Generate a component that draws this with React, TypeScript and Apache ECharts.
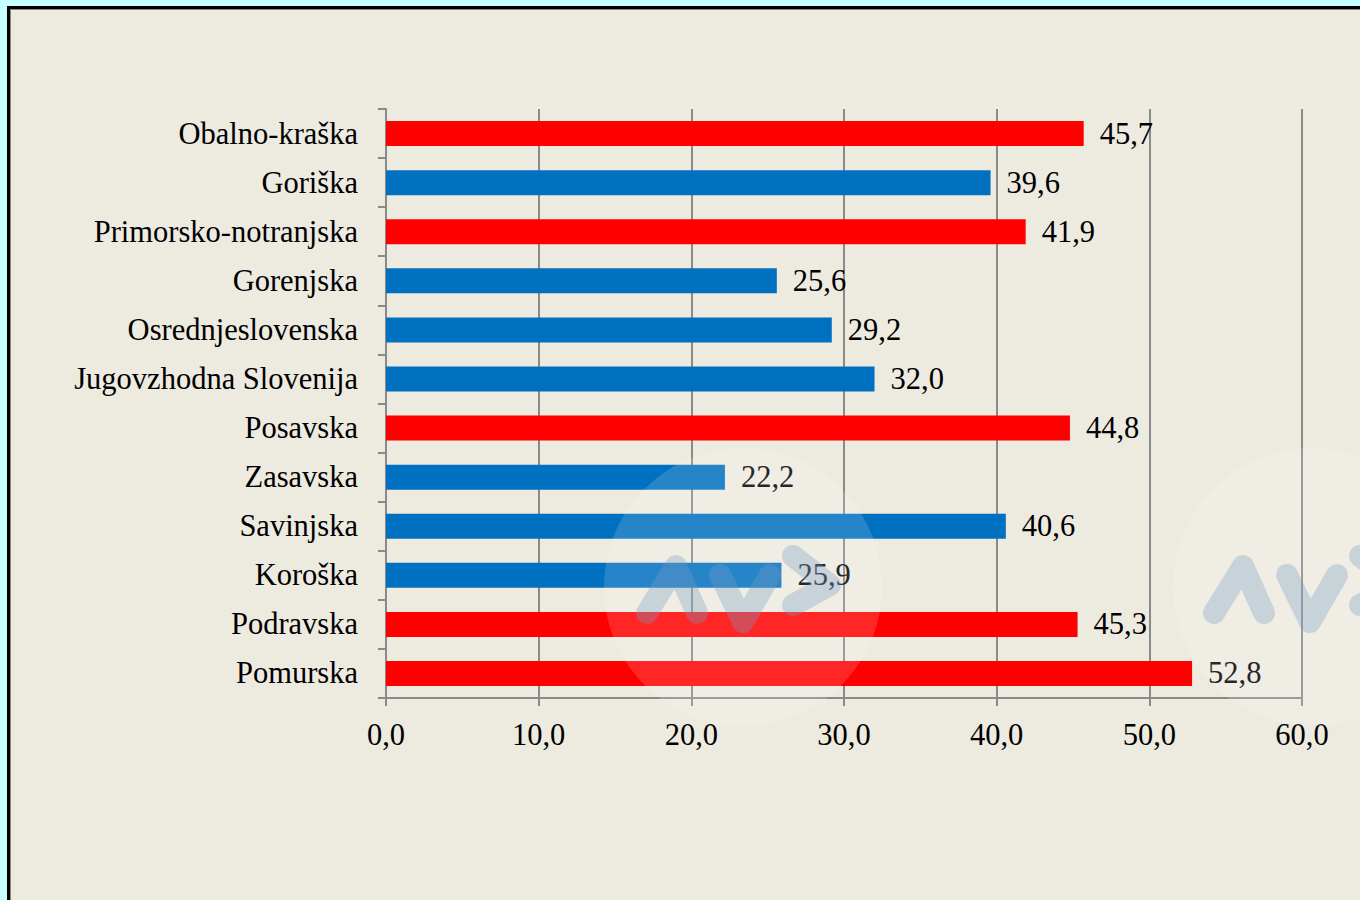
import { useEffect, useRef } from "react";
import * as echarts from "echarts";

const categories = [
  "Obalno-kraška",
  "Goriška",
  "Primorsko-notranjska",
  "Gorenjska",
  "Osrednjeslovenska",
  "Jugovzhodna Slovenija",
  "Posavska",
  "Zasavska",
  "Savinjska",
  "Koroška",
  "Podravska",
  "Pomurska",
];
const values = [45.7, 39.6, 41.9, 25.6, 29.2, 32.0, 44.8, 22.2, 40.6, 25.9, 45.3, 52.8];
const highlighted = [true, false, true, false, false, false, true, false, false, false, true, true];

const RED = "#FF0000";
const BLUE = "#0070C0";
const FONT = "'Liberation Serif', 'Times New Roman', serif";
const FS = 30.5;

const fmt = (v: number) => v.toFixed(1).replace(".", ",");

function logo(dx: number, cx: number) {
  const stroke = "rgba(120,155,195,0.33)";
  const st = { stroke, lineWidth: 22, fill: null, lineCap: "round", lineJoin: "round" } as any;
  return [
    { type: "circle", shape: { cx, cy: 587, r: 139 }, style: { fill: "rgba(255,255,255,0.15)" }, z: 100, silent: true },
    { type: "polyline", shape: { points: [[647 + dx, 613], [676 + dx, 566], [697 + dx, 613]] }, style: st, z: 101, silent: true },
    { type: "polyline", shape: { points: [[720 + dx, 575], [743 + dx, 622], [770 + dx, 575]] }, style: st, z: 101, silent: true },
    { type: "polyline", shape: { points: [[793 + dx, 556], [830 + dx, 585], [793 + dx, 605]] }, style: st, z: 101, silent: true },
  ];
}

export default function App() {
  const ref = useRef<HTMLDivElement>(null);
  useEffect(() => {
    if (!ref.current) return;
    const chart = echarts.init(ref.current, null, { renderer: "svg" });
    chart.setOption({
      animation: false,
      backgroundColor: "transparent",
      grid: { left: 386, right: 58, top: 109, bottom: 202, containLabel: false },
      xAxis: {
        type: "value",
        min: 0,
        max: 60,
        interval: 10,
        axisLine: { show: true, lineStyle: { color: "#8a8a8a", width: 2 } },
        axisTick: { show: true, length: 8, lineStyle: { color: "#8a8a8a", width: 2 } },
        splitLine: { show: true, lineStyle: { color: "#8a8a8a", width: 2 } },
        axisLabel: {
          formatter: (v: number) => fmt(v),
          color: "#000",
          fontFamily: FONT,
          fontSize: FS,
          margin: 21,
        },
      },
      yAxis: {
        type: "category",
        data: categories,
        inverse: true,
        axisLine: { show: true, lineStyle: { color: "#8a8a8a", width: 2 } },
        axisTick: { show: true, length: 8, alignWithLabel: false, lineStyle: { color: "#8a8a8a", width: 2 } },
        splitLine: { show: false },
        axisLabel: {
          color: "#000",
          fontFamily: FONT,
          fontSize: FS,
          margin: 28,
        },
      },
      series: [
        {
          type: "bar",
          barWidth: 25,
          data: values.map((v, i) => ({
            value: v,
            itemStyle: { color: highlighted[i] ? RED : BLUE },
          })),
          label: {
            show: true,
            position: "right",
            distance: 16,
            formatter: (p: any) => fmt(p.value),
            color: "#000",
            fontFamily: FONT,
            fontSize: FS,
          },
        },
      ],
      graphic: [...logo(0, 743), ...logo(567, 1312)],
    });
    return () => chart.dispose();
  }, []);

  return (
    <div
      style={{
        position: "fixed",
        left: 0,
        top: 0,
        width: 1360,
        height: 900,
        overflow: "hidden",
        background: "#C6FFFF",
      }}
    >
      <div
        style={{
          position: "absolute",
          left: 7,
          top: 6,
          width: 1420,
          height: 1000,
          boxSizing: "border-box",
          border: "3px solid #000",
          background: "#EDEAE0",
          boxShadow: "inset 1px 1px 0 #8a8a8a",
        }}
      />
      <div ref={ref} style={{ position: "absolute", left: 0, top: 0, width: 1360, height: 900 }} />
    </div>
  );
}
